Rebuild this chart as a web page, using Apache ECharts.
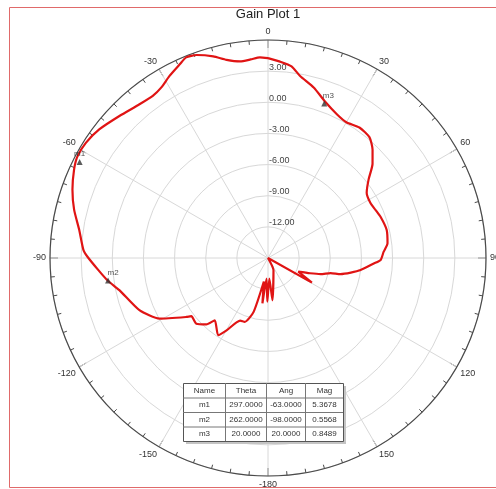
<!DOCTYPE html>
<html>
<head>
<meta charset="utf-8">
<script src="https://cdn.jsdelivr.net/npm/echarts@6/dist/echarts.min.js"></script>
<style>
html,body{margin:0;padding:0;background:#fff;}
#c{width:496px;height:489px;}
</style>
</head>
<body>
<div id="c"></div>
<script>
// ---- data (angle in degrees clockwise from top, gain in dB) ----
const angles = [0, 3.5, 7, 10, 15, 20, 25.7, 30, 35, 40, 44, 48, 52, 56.5, 61.8, 66, 70, 76.7, 83, 87, 91, 93, 97.4, 100, 102.5, 103.5, 107, 110, 114.3, 119.3, 140, 156, 174, 176.3, 180.9, 184, 187, 190, 195, 200, 204, 209.8, 212.8, 220.5, 222.9, 227.5, 232.8, 234.2, 240.8, 247.9, 257.8, 262, 266, 270.4, 272.5, 278.5, 284, 289.3, 294.5, 298, 302.3, 307.3, 313.7, 320.1, 324.6, 327.9, 331.6, 335.5, 337.8, 340.6, 344.8, 348.2, 351.9, 355, 357.7, 360];
const gains  = [4.25, 3.95, 3.6, 2.8, 2.0, 1.05, 0.35, 0.1, 0.35, 0.2, -0.5, -1.45, -2.7, -3.6, -3.8, -3.65, -3.45, -3.25, -3.4, -3.85, -4.15, -4.8, -6.0, -6.9, -7.85, -8.8, -9.7, -10.7, -11.8, -10.15, -15, -13.7, -10.9, -13.0, -10.8, -13.0, -10.6, -12.7, -9.6, -8.45, -8.4, -6.97, -6.15, -7.1, -6.28, -5.64, -5.73, -5.29, -3.03, -1.63, -0.35, 0.6, 1.4, 2.39, 2.8, 3.39, 4.25, 4.96, 5.53, 5.8, 5.76, 5.44, 4.8, 4.3, 4.16, 4.37, 4.94, 5.5, 5.87, 5.73, 5.13, 4.5, 4.13, 4.2, 4.35, 4.25];

const markerNames = ['m1', 'm2', 'm3'];
const markerTheta = [297, 262, 20];
const markerAng   = [-63, -98, 20];
const markerMag   = [5.3678, 0.5568, 0.8489];

const tableHeader = ['Name', 'Theta', 'Ang', 'Mag'];
const radialMin = -15, radialMax = 6, radialStep = 3;
const titleText = 'Gain Plot 1';

// ---- layout ----
const FONT = 'Liberation Sans, Arial, sans-serif';
const cx = 268, cy = 258, R = 218;
const colX = [183, 225, 266, 305, 343];
const rowY = [383, 397.5, 412, 426.5, 441];

const chart = echarts.init(document.getElementById('c'), null, {renderer: 'canvas'});

function angleLabel(v) {
  if (v >= 360) return '';
  if (v === 180) return '-180';
  if (v > 180) return String(v - 360);
  return String(v);
}

const lineData = angles.map((a, i) => [gains[i], a]);
const labelPos = [
  {position: 'top', distance: 1, offset: [0, 0]},
  {position: 'top', distance: 1, offset: [5, 0]},
  {position: 'top', distance: 1, offset: [4, 0]}
];
const markerData = markerNames.map((n, i) => ({
  name: n,
  value: [markerMag[i], markerTheta[i]],
  label: labelPos[i]
}));

// table graphic
const tableEls = [];
const tw = colX[colX.length - 1] - colX[0];
const th = rowY[rowY.length - 1] - rowY[0];
tableEls.push({type: 'rect', shape: {x: colX[0] + 3, y: rowY[0] + 3, width: tw, height: th},
  style: {fill: '#c4c4c4'}, z: 10});
tableEls.push({type: 'rect', shape: {x: colX[0] + 0.5, y: rowY[0] + 0.5, width: tw, height: th},
  style: {fill: '#fff', stroke: '#555', lineWidth: 1}, z: 11});
for (let i = 1; i < colX.length - 1; i++) {
  tableEls.push({type: 'line', shape: {x1: colX[i] + 0.5, y1: rowY[0], x2: colX[i] + 0.5, y2: rowY[rowY.length - 1]},
    style: {stroke: '#777', lineWidth: 1}, z: 12});
}
for (let j = 1; j < rowY.length - 1; j++) {
  tableEls.push({type: 'line', shape: {x1: colX[0], y1: rowY[j] + 0.5, x2: colX[colX.length - 1], y2: rowY[j] + 0.5},
    style: {stroke: '#777', lineWidth: 1}, z: 12});
}
const rows = [tableHeader].concat(markerNames.map((n, i) => [
  n, markerTheta[i].toFixed(4), markerAng[i].toFixed(4), markerMag[i].toFixed(4)
]));
rows.forEach((r, j) => {
  r.forEach((t, i) => {
    tableEls.push({type: 'text', x: (colX[i] + colX[i + 1]) / 2 + 0.5, y: (rowY[j] + rowY[j + 1]) / 2 + 0.5,
      style: {text: t, align: 'center', verticalAlign: 'middle', fontSize: 8, fill: '#333', fontFamily: FONT}, z: 13});
  });
});

const option = {
  animation: false,
  backgroundColor: '#ffffff',
  polar: {center: [cx, cy], radius: R},
  angleAxis: {
    type: 'value', min: 0, max: 360, interval: 30, startAngle: 90, clockwise: true,
    axisLine: {lineStyle: {color: '#4a4a4a', width: 1.2}},
    axisTick: {inside: true, length: 8, lineStyle: {color: '#4a4a4a', width: 1}},
    minorTick: {show: true, splitNumber: 6, length: 4, lineStyle: {color: '#4a4a4a', width: 1}},
    axisLabel: {margin: 4, fontSize: 9, color: '#333', fontFamily: FONT, formatter: angleLabel},
    splitLine: {show: true, lineStyle: {color: '#d8d8d8', width: 1}},
    minorSplitLine: {show: false}
  },
  radiusAxis: {
    type: 'value', min: radialMin, max: radialMax, interval: radialStep,
    axisLine: {show: false}, axisTick: {show: false},
    axisLabel: {
      fontSize: 9, color: '#444', fontFamily: FONT, margin: -1, align: 'left',
      verticalAlign: 'bottom', lineHeight: 8,
      formatter: v => (v <= radialMin || v >= radialMax) ? '' : v.toFixed(2)
    },
    splitLine: {show: true, lineStyle: {color: '#d8d8d8', width: 1}}
  },
  series: [
    {
      type: 'line', coordinateSystem: 'polar', data: lineData,
      showSymbol: false, symbol: 'none', smooth: 0.2,
      lineStyle: {color: '#e01414', width: 2.2}, z: 5
    },
    {
      type: 'scatter', coordinateSystem: 'polar', data: markerData,
      symbol: 'triangle', symbolSize: 6, itemStyle: {color: '#333'},
      label: {show: true, formatter: '{b}', fontSize: 8, color: '#222', fontFamily: FONT},
      z: 6
    }
  ],
  graphic: [
    {type: 'rect', shape: {x: 9.5, y: 7.5, width: 500, height: 480},
      style: {fill: 'none', stroke: '#e06a6a', lineWidth: 1}, z: 1, silent: true},
    {type: 'text', x: cx, y: 14,
      style: {text: titleText, align: 'center', verticalAlign: 'middle', fontSize: 13, fill: '#222', fontFamily: FONT}, z: 20},
    {type: 'group', children: tableEls, z: 10}
  ]
};
chart.setOption(option);
</script>
</body>
</html>
